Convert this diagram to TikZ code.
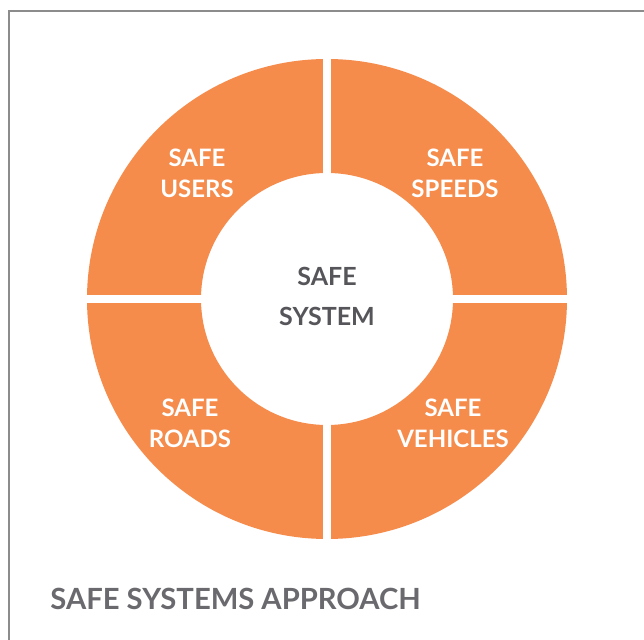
\documentclass[tikz,border=0pt]{standalone}
\usepackage{fontspec}
\setmainfont{Lato}
\usetikzlibrary{positioning}
\definecolor{safeorange}{RGB}{245,140,76}
\definecolor{darkgrey}{RGB}{85,85,90}
\definecolor{titlegrey}{RGB}{105,105,110}
\definecolor{framegrey}{RGB}{140,140,140}

\begin{document}
\begin{tikzpicture}[
    x=0.5pt, y=-0.5pt,
    ringlabel/.style={
        text=white, align=center, inner sep=0pt,
        font=\bfseries\fontsize{12}{15.5}\selectfont
    },
    centerlabel/.style={
        text=darkgrey, align=center, inner sep=0pt,
        font=\bfseries\fontsize{12.5}{20}\selectfont
    },
    titlelabel/.style={
        text=titlegrey, inner sep=0pt,
        font=\bfseries\fontsize{14.6}{18}\selectfont
    },
    gap/.style={white, line width=4.2pt}
]

\useasboundingbox (0,0) rectangle (644,640);

% FRAME
\draw[framegrey, line width=1pt] (9,640) -- (9,11) -- (644,11);

% RING - annulus cut into four quarters
\coordinate (c) at (327,299);
\fill[safeorange, even odd rule] (c) circle (240) circle (126);
\draw[gap] (327,50) -- (327,550);
\draw[gap] (80,299) -- (575,299);

% QUARTER LABELS
\node[ringlabel] at (197,173) (users) {SAFE\\USERS};
\node[ringlabel] at (455,173) (speeds) {SAFE\\SPEEDS};
\node[ringlabel] at (190,423) (roads) {SAFE\\ROADS};
\node[ringlabel] at (453,423) (vehicles) {SAFE\\VEHICLES};

% CENTRE
\node[centerlabel] at (327,296) (system) {SAFE\\SYSTEM};

% TITLE
\node[titlelabel, anchor=base west] at (50,610) (title) {SAFE SYSTEMS APPROACH};

\end{tikzpicture}
\end{document}
